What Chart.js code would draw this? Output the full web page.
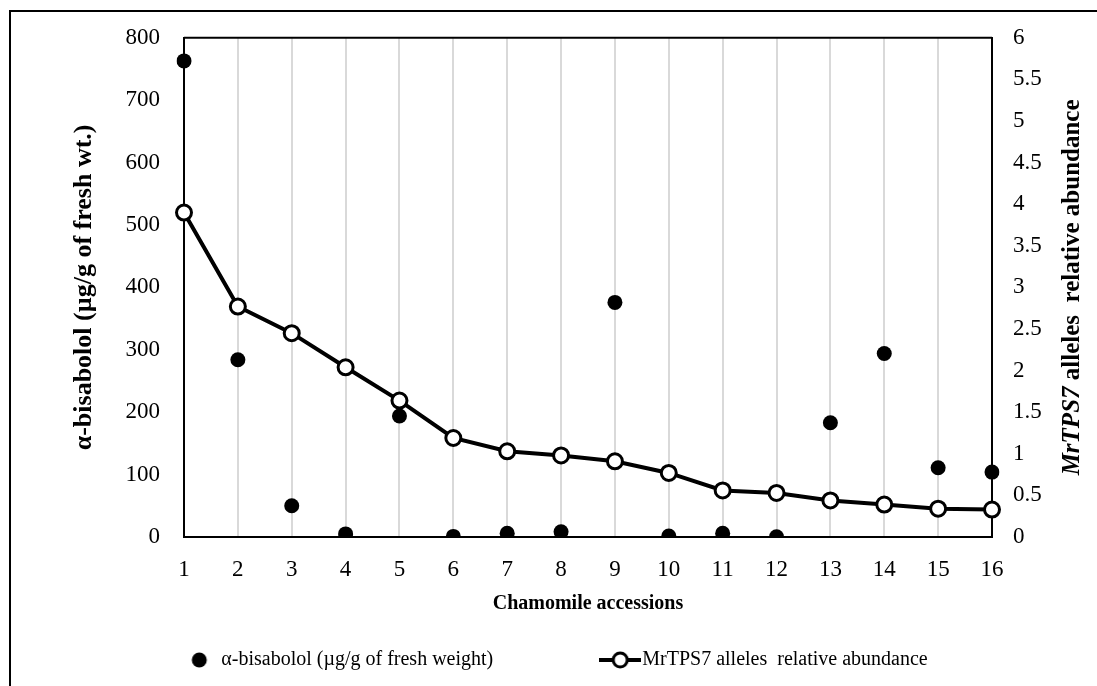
<!DOCTYPE html>
<html>
<head>
<meta charset="utf-8">
<script src="https://cdn.jsdelivr.net/npm/chart.js@4.4.1/dist/chart.umd.min.js"></script>
<style>
  body { margin: 0; background: #fff; }
  canvas { display: block; }
</style>
</head>
<body>
<canvas id="chart" width="1097" height="686"></canvas>
<script>
// values
var accessions = ['1', '2', '3', '4', '5', '6', '7', '8', '9', '10', '11', '12', '13', '14', '15', '16'];
var bisabolol = [763, 284, 50, 5, 194, 1, 6, 8.5, 376, 1.6, 6, 0.5, 183, 294, 111, 104];
var mrtps7 = [3.90, 2.77, 2.45, 2.04, 1.64, 1.19, 1.03, 0.98, 0.91, 0.77, 0.56, 0.53, 0.44, 0.39, 0.34, 0.33];
var leftTicks = [0, 100, 200, 300, 400, 500, 600, 700, 800];
var rightTicks = [0, 0.5, 1, 1.5, 2, 2.5, 3, 3.5, 4, 4.5, 5, 5.5, 6];

var serif = '"Liberation Serif", "Times New Roman", serif';

// little canvases used as legend markers
function dotMarker() {
  var c = document.createElement('canvas');
  c.width = 18; c.height = 18;
  var g = c.getContext('2d');
  g.fillStyle = '#000';
  g.beginPath(); g.arc(9, 9, 7.5, 0, Math.PI * 2); g.fill();
  return c;
}
function lineMarker() {
  var c = document.createElement('canvas');
  c.width = 42; c.height = 20;
  var g = c.getContext('2d');
  g.strokeStyle = '#000';
  g.lineWidth = 4;
  g.beginPath(); g.moveTo(0, 10); g.lineTo(42, 10); g.stroke();
  g.fillStyle = '#fff';
  g.lineWidth = 3;
  g.beginPath(); g.arc(21, 10, 7, 0, Math.PI * 2); g.fill(); g.stroke();
  return c;
}

// outer frame, plot frame and the mixed-style right axis title
var framePlugin = {
  id: 'frames',
  beforeDraw: function (chart) {
    var ctx = chart.ctx;
    ctx.save();
    ctx.fillStyle = '#fff';
    ctx.fillRect(0, 0, chart.width, chart.height);
    ctx.strokeStyle = '#000';
    ctx.lineWidth = 2;
    ctx.strokeRect(10, 11, 1200, 800);
    ctx.restore();
  },
  afterDraw: function (chart) {
    var ctx = chart.ctx;
    var a = chart.chartArea;
    ctx.save();
    ctx.strokeStyle = '#000';
    ctx.lineWidth = 2;
    ctx.beginPath();
    ctx.moveTo(a.left, a.top);
    ctx.lineTo(a.right, a.top);
    ctx.stroke();

    var p1 = 'MrTPS7', p2 = ' alleles  relative abundance';
    var f1 = 'italic bold 25px ' + serif, f2 = 'bold 25px ' + serif;
    ctx.font = f1; var w1 = ctx.measureText(p1).width;
    ctx.font = f2; var w2 = ctx.measureText(p2).width;
    ctx.translate(1073, (a.top + a.bottom) / 2);
    ctx.rotate(-Math.PI / 2);
    ctx.fillStyle = '#000';
    ctx.textBaseline = 'middle';
    ctx.textAlign = 'left';
    var x0 = -(w1 + w2) / 2;
    ctx.font = f1; ctx.fillText(p1, x0, 0);
    ctx.font = f2; ctx.fillText(p2, x0 + w1, 0);
    ctx.restore();
  }
};

var ctx = document.getElementById('chart').getContext('2d');
var chart = new Chart(ctx, {
  type: 'line',
  data: {
    labels: accessions,
    datasets: [{
      label: 'α-bisabolol (µg/g of fresh weight)',
      data: bisabolol,
      yAxisID: 'y',
      showLine: false,
      pointRadius: 7.5,
      pointBackgroundColor: '#000',
      pointBorderColor: '#000',
      pointBorderWidth: 0,
      order: 2
    }, {
      label: 'MrTPS7 alleles  relative abundance',
      data: mrtps7,
      yAxisID: 'y1',
      borderColor: '#000',
      borderWidth: 4,
      pointRadius: 7.5,
      pointBackgroundColor: '#fff',
      pointBorderColor: '#000',
      pointBorderWidth: 3,
      tension: 0,
      order: 1
    }]
  },
  options: {
    responsive: false,
    animation: false,
    layout: { padding: { top: 35, left: 18, right: 0, bottom: 6 } },
    plugins: {
      tooltip: { enabled: false },
      legend: {
        position: 'bottom',
        fullSize: true,
        labels: {
          usePointStyle: true,
          pointStyleWidth: 24,
          padding: 10,
          color: '#000',
          font: { family: serif, size: 20 },
          generateLabels: function (chart) {
            var ds = chart.data.datasets;
            return [
              { text: ds[0].label + '                     ', pointStyle: dotMarker(), fillStyle: '#000', strokeStyle: '#000', lineWidth: 0, datasetIndex: 0, fontColor: '#000' },
              { text: ds[1].label, pointStyle: lineMarker(), fillStyle: '#fff', strokeStyle: '#000', lineWidth: 0, datasetIndex: 1, fontColor: '#000' }
            ];
          }
        }
      }
    },
    scales: {
      x: {
        type: 'category',
        offset: false,
        afterFit: function (s) { s.height = 103; },
        grid: { color: '#d9d9d9', lineWidth: 2, drawTicks: false },
        border: { color: '#000', width: 2 },
        ticks: { color: '#000', padding: 19, maxRotation: 0, autoSkip: false, font: { family: serif, size: 23 } },
        title: { display: true, text: 'Chamomile accessions', color: '#000', font: { family: serif, size: 20, weight: 'bold' }, padding: { top: 0, bottom: 24 } }
      },
      y: {
        position: 'left',
        min: 0, max: 800,
        afterFit: function (s) { s.width = 166; },
        afterBuildTicks: function (s) { s.ticks = leftTicks.map(function (v) { return { value: v }; }); },
        grid: { display: false, drawTicks: false },
        border: { color: '#000', width: 2 },
        ticks: { color: '#000', padding: 24, font: { family: serif, size: 23 } },
        title: { display: true, text: 'α-bisabolol (µg/g of fresh wt.)', color: '#000', font: { family: serif, size: 26, weight: 'bold' }, padding: { top: 51, bottom: 0 } }
      },
      y1: {
        position: 'right',
        min: 0, max: 6,
        afterFit: function (s) { s.width = 105; },
        afterBuildTicks: function (s) { s.ticks = rightTicks.map(function (v) { return { value: v }; }); },
        grid: { display: false, drawTicks: false },
        border: { color: '#000', width: 2 },
        ticks: { color: '#000', padding: 21, font: { family: serif, size: 23 }, callback: function (v) { return String(v); } }
      }
    }
  },
  plugins: [framePlugin]
});
</script>
</body>
</html>
